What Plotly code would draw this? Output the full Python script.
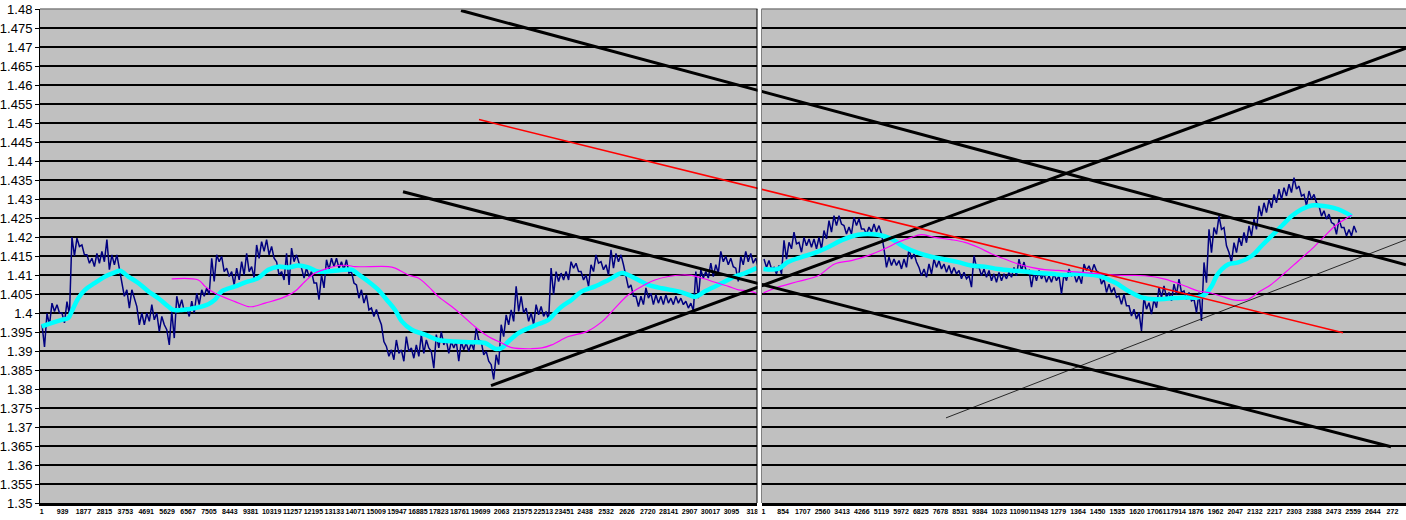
import plotly.graph_objects as go

# price axis
Y_TICKS = ["1.35", "1.355", "1.36", "1.365", "1.37", "1.375", "1.38", "1.385", "1.39",
           "1.395", "1.4", "1.405", "1.41", "1.415", "1.42", "1.425", "1.43", "1.435",
           "1.44", "1.445", "1.45", "1.455", "1.46", "1.465", "1.47", "1.475", "1.48"]

# category labels as Excel printed them (truncated)
LEFT_TICKTEXT = ["1", "939", "1877", "2815", "3753", "4691", "5629", "6567", "7505", "8443",
                 "9381", "10319", "11257", "12195", "13133", "14071", "15009", "15947", "16885",
                 "17823", "18761", "19699", "2063", "21575", "22513", "23451", "2438", "2532",
                 "2626", "2720", "28141", "2907", "30017", "3095", "318"]
RIGHT_TICKTEXT = ["1", "854", "1707", "2560", "3413", "4266", "5119", "5972", "6825", "7678",
                  "8531", "9384", "1023", "11090", "11943", "1279", "1364", "1450", "1535",
                  "1620", "17061", "17914", "1876", "1962", "2047", "2132", "2217", "2303",
                  "2388", "2473", "2559", "2644", "272"]
LEFT_TICK_STEP = 938
RIGHT_TICK_STEP = 853

# price series, high/low per block of bars
LEFT_BLOCK = 224
LEFT_FIRST = 14
LEFT_HI = [1.3969, 1.3999, 1.4026, 1.4022, 1.4000, 1.4030, 1.4200, 1.4197, 1.4179, 1.4153,
           1.4144, 1.4157, 1.4162, 1.4193, 1.4153, 1.4153, 1.4079, 1.4061, 1.4061, 1.4017,
           1.4000, 1.4000, 1.4022, 1.4000, 1.3991, 1.3956, 1.4004, 1.4044, 1.4035, 1.4013,
           1.4031, 1.4052, 1.4061, 1.4066, 1.4144, 1.4153, 1.4149, 1.4118, 1.4109, 1.4118,
           1.4135, 1.4157, 1.4122, 1.4179, 1.4188, 1.4193, 1.4175, 1.4135, 1.4109, 1.4157,
           1.4171, 1.4153, 1.4118, 1.4118, 1.4109, 1.4079, 1.4100, 1.4140, 1.4144, 1.4144,
           1.4135, 1.4140, 1.4109, 1.4074, 1.4061, 1.4048, 1.4013, 1.4009, 1.3969, 1.3912,
           1.3903, 1.3929, 1.3903, 1.3938, 1.3908, 1.3916, 1.3943, 1.3929, 1.3899, 1.3943,
           1.3951, 1.3929, 1.3925, 1.3925, 1.3925, 1.3921, 1.3921, 1.3960, 1.3925, 1.3899,
           1.3864, 1.3890, 1.3969, 1.3995, 1.4008, 1.4070, 1.4044, 1.4013, 1.4000, 1.4022,
           1.4017, 1.4004, 1.4118, 1.4109, 1.4105, 1.4109, 1.4135, 1.4131, 1.4109, 1.4100,
           1.4127, 1.4153, 1.4135, 1.4127, 1.4166, 1.4157, 1.4153, 1.4100, 1.4074, 1.4044,
           1.4044, 1.4066, 1.4052, 1.4048, 1.4044, 1.4048, 1.4039, 1.4044, 1.4039, 1.4031,
           1.4026, 1.4109, 1.4114, 1.4109, 1.4131, 1.4127, 1.4162, 1.4149, 1.4144, 1.4118,
           1.4149, 1.4162, 1.4157, 1.4144]
LEFT_LO = [1.3911, 1.3969, 1.4004, 1.4000, 1.3974, 1.3995, 1.4150, 1.4175, 1.4153, 1.4131,
           1.4122, 1.4131, 1.4135, 1.4114, 1.4127, 1.4118, 1.4044, 1.4013, 1.4039, 1.3969,
           1.3969, 1.3978, 1.3982, 1.3951, 1.3969, 1.3916, 1.3934, 1.4013, 1.4004, 1.3991,
           1.4000, 1.4022, 1.4044, 1.4048, 1.4083, 1.4135, 1.4109, 1.4096, 1.4074, 1.4087,
           1.4100, 1.4109, 1.4092, 1.4144, 1.4162, 1.4153, 1.4144, 1.4100, 1.4087, 1.4074,
           1.4135, 1.4131, 1.4092, 1.4096, 1.4079, 1.4035, 1.4066, 1.4114, 1.4122, 1.4118,
           1.4114, 1.4105, 1.4079, 1.4039, 1.4026, 1.4008, 1.3991, 1.3987, 1.3925, 1.3886,
           1.3877, 1.3894, 1.3873, 1.3899, 1.3881, 1.3886, 1.3894, 1.3908, 1.3855, 1.3908,
           1.3916, 1.3894, 1.3908, 1.3873, 1.3903, 1.3899, 1.3903, 1.3929, 1.3890, 1.3873,
           1.3825, 1.3864, 1.3938, 1.3969, 1.3978, 1.4004, 1.4000, 1.3978, 1.3969, 1.3995,
           1.3991, 1.3982, 1.4048, 1.4083, 1.4087, 1.4087, 1.4118, 1.4109, 1.4087, 1.4070,
           1.4109, 1.4131, 1.4114, 1.4100, 1.4118, 1.4135, 1.4127, 1.4066, 1.4044, 1.4017,
           1.4022, 1.4039, 1.4022, 1.4026, 1.4022, 1.4026, 1.4022, 1.4026, 1.4022, 1.4013,
           1.4006, 1.4039, 1.4092, 1.4092, 1.4096, 1.4105, 1.4135, 1.4127, 1.4122, 1.4083,
           1.4127, 1.4135, 1.4131, 1.4122]

RIGHT_BLOCK = 217
RIGHT_FIRST = 22
RIGHT_HI = [1.4142, 1.4138, 1.4120, 1.4125, 1.4191, 1.4186, 1.4213, 1.4186, 1.4199, 1.4195,
            1.4195, 1.4199, 1.4217, 1.4243, 1.4256, 1.4256, 1.4230, 1.4226, 1.4252, 1.4248,
            1.4221, 1.4226, 1.4234, 1.4230, 1.4169, 1.4147, 1.4142, 1.4138, 1.4142, 1.4169,
            1.4156, 1.4120, 1.4116, 1.4129, 1.4142, 1.4138, 1.4129, 1.4125, 1.4120, 1.4112,
            1.4107, 1.4098, 1.4151, 1.4120, 1.4116, 1.4112, 1.4103, 1.4107, 1.4103, 1.4107,
            1.4120, 1.4142, 1.4134, 1.4112, 1.4107, 1.4112, 1.4103, 1.4098, 1.4103, 1.4098,
            1.4103, 1.4116, 1.4103, 1.4098, 1.4129, 1.4124, 1.4128, 1.4106, 1.4089, 1.4076,
            1.4067, 1.4045, 1.4049, 1.4019, 1.4010, 1.4001, 1.4041, 1.4027, 1.4036, 1.4067,
            1.4071, 1.4054, 1.4076, 1.4089, 1.4058, 1.4054, 1.4036, 1.4054, 1.4133, 1.4220,
            1.4225, 1.4255, 1.4225, 1.4159, 1.4185, 1.4198, 1.4212, 1.4229, 1.4247, 1.4282,
            1.4290, 1.4299, 1.4312, 1.4326, 1.4330, 1.4339, 1.4356, 1.4334, 1.4312, 1.4321,
            1.4312, 1.4282, 1.4269, 1.4260, 1.4234, 1.4247, 1.4225, 1.4220, 1.4229]
RIGHT_LO = [1.4120, 1.4116, 1.4103, 1.4103, 1.4142, 1.4169, 1.4182, 1.4160, 1.4177, 1.4173,
            1.4169, 1.4169, 1.4195, 1.4213, 1.4230, 1.4234, 1.4208, 1.4208, 1.4230, 1.4221,
            1.4208, 1.4213, 1.4213, 1.4208, 1.4120, 1.4125, 1.4125, 1.4116, 1.4120, 1.4142,
            1.4134, 1.4098, 1.4094, 1.4103, 1.4120, 1.4116, 1.4107, 1.4103, 1.4103, 1.4090,
            1.4090, 1.4068, 1.4120, 1.4098, 1.4094, 1.4085, 1.4081, 1.4085, 1.4090, 1.4094,
            1.4098, 1.4112, 1.4107, 1.4068, 1.4085, 1.4090, 1.4081, 1.4081, 1.4085, 1.4050,
            1.4085, 1.4098, 1.4081, 1.4077, 1.4112, 1.4106, 1.4111, 1.4076, 1.4054, 1.4054,
            1.4041, 1.4023, 1.4019, 1.3992, 1.3984, 1.3953, 1.4010, 1.3997, 1.4014, 1.4041,
            1.4041, 1.4032, 1.4049, 1.4054, 1.4036, 1.4032, 1.4001, 1.3979, 1.4080, 1.4159,
            1.4207, 1.4220, 1.4177, 1.4133, 1.4159, 1.4177, 1.4185, 1.4203, 1.4220, 1.4255,
            1.4264, 1.4277, 1.4290, 1.4299, 1.4308, 1.4317, 1.4326, 1.4308, 1.4282, 1.4299,
            1.4290, 1.4255, 1.4247, 1.4238, 1.4207, 1.4225, 1.4203, 1.4203, 1.4212]

# fast moving average (cyan)
LEFT_FAST_X = [1, 297, 898, 1194, 1347, 1643, 1944, 2393, 2841, 3290, 3515, 3887, 4336, 4785,
               5234, 5682, 5907, 6284, 6881, 7478, 7778, 8079, 8676, 9273, 9722, 10170, 10619,
               11068, 11517, 11966, 12414, 13164, 13913, 14209, 14658, 15107, 15484, 15861,
               16162, 16611, 17208, 17805, 18554, 19304, 19901, 20349, 20650, 20946, 21395,
               21844, 22293, 22742, 23042, 23343, 23792, 24241, 24838, 25435, 26036, 26332,
               26781, 27230, 27831, 28574, 29023, 29321, 29769, 30218, 30667, 31116, 31565, 32090]
LEFT_FAST = [1.3965, 1.3971, 1.3982, 1.3987, 1.4004, 1.4039, 1.4061, 1.4079, 1.4096, 1.4107,
             1.4111, 1.4096, 1.4079, 1.4057, 1.4039, 1.4017, 1.4008, 1.4008, 1.4013, 1.4023,
             1.4035, 1.4057, 1.4070, 1.4083, 1.4092, 1.4114, 1.4122, 1.4120, 1.4125, 1.4120,
             1.4109, 1.4111, 1.4114, 1.4102, 1.4083, 1.4061, 1.4035, 1.4008, 1.3978, 1.3956,
             1.3943, 1.3929, 1.3925, 1.3923, 1.3921, 1.3906, 1.3908, 1.3925, 1.3947, 1.3960,
             1.3971, 1.3982, 1.4000, 1.4017, 1.4035, 1.4057, 1.4070, 1.4087, 1.4105, 1.4100,
             1.4087, 1.4074, 1.4065, 1.4057, 1.4048, 1.4043, 1.4057, 1.4070, 1.4083, 1.4096,
             1.4105, 1.4118]
RIGHT_FAST_X = [1, 629, 1063, 1640, 2222, 2799, 3376, 4101, 4969, 5546, 6128, 6705, 7282, 7864,
                8441, 9018, 9600, 10177, 10754, 11336, 11913, 12490, 13072, 13649, 13953, 14530,
                15255, 15832, 16414, 16991, 17568, 18293, 18870, 19161, 19452, 19669, 19886,
                20172, 20606, 21188, 21622, 22056, 22490, 22924, 23358, 23792, 24078, 24512,
                24946, 25528]
RIGHT_FAST = [1.4116, 1.4116, 1.4134, 1.4147, 1.4158, 1.4173, 1.4191, 1.4206, 1.4206, 1.4195,
              1.4173, 1.4158, 1.4148, 1.4141, 1.4134, 1.4125, 1.4122, 1.4116, 1.4112, 1.4109,
              1.4105, 1.4103, 1.4100, 1.4103, 1.4102, 1.4098, 1.4080, 1.4058, 1.4041, 1.4036,
              1.4038, 1.4041, 1.4041, 1.4049, 1.4071, 1.4098, 1.4115, 1.4128, 1.4133, 1.4150,
              1.4177, 1.4203, 1.4229, 1.4255, 1.4273, 1.4283, 1.4283, 1.4280, 1.4273, 1.4255]

# slow moving average (magenta)
LEFT_SLOW_X = [5835, 7029, 7329, 7778, 8676, 9273, 9497, 10022, 10772, 11368, 11817, 12266,
               12863, 13312, 13761, 14061, 15556, 15861, 16454, 16903, 17351, 17805, 18401,
               18850, 19447, 20044, 20650, 21094, 21991, 22448, 22889, 23634, 24460, 25158,
               25731, 26332, 26928, 27525, 28127, 28724, 29173, 29622, 30218, 30816, 31265,
               31714, 32090]
LEFT_SLOW = [1.4090, 1.4087, 1.4070, 1.4052, 1.4030, 1.4017, 1.4017, 1.4026, 1.4039, 1.4057,
             1.4083, 1.4105, 1.4118, 1.4125, 1.4125, 1.4122, 1.4122, 1.4118, 1.4100, 1.4092,
             1.4070, 1.4043, 1.4017, 1.3995, 1.3964, 1.3938, 1.3921, 1.3909, 1.3906, 1.3908,
             1.3916, 1.3938, 1.3951, 1.3978, 1.4013, 1.4048, 1.4070, 1.4087, 1.4096, 1.4100,
             1.4099, 1.4092, 1.4081, 1.4070, 1.4061, 1.4058, 1.4052]
RIGHT_SLOW_X = [1, 629, 1497, 2365, 3090, 3810, 4535, 5260, 5837, 6414, 6848, 7430, 8150, 8732,
                9309, 9886, 10468, 11045, 11622, 12204, 12781, 13358, 13953, 14821, 15689,
                16557, 17425, 18293, 18870, 19452, 20029, 20463, 21040, 21474, 22056, 22633,
                23210, 23792, 24369, 24803, 25237, 25528]
RIGHT_SLOW = [1.4053, 1.4068, 1.4083, 1.4098, 1.4129, 1.4138, 1.4151, 1.4169, 1.4186, 1.4199,
              1.4206, 1.4199, 1.4193, 1.4186, 1.4173, 1.4156, 1.4142, 1.4129, 1.4120, 1.4114,
              1.4112, 1.4109, 1.4106, 1.4102, 1.4099, 1.4098, 1.4089, 1.4071, 1.4058, 1.4052,
              1.4041, 1.4034, 1.4036, 1.4054, 1.4076, 1.4106, 1.4137, 1.4168, 1.4203, 1.4229,
              1.4247, 1.4257]

# hand-drawn trend lines, bar numbers continue the left chart's scale
TRENDS = [
    # (x pair, price pair, colour, width)
    ([18819, 61230], [1.4796, 1.4127], "black", 3),
    ([16215, 60557], [1.4319, 1.3648], "black", 3),
    ([20165, 61230], [1.3809, 1.4697], "black", 3),
    ([19627, 58403], [1.4509, 1.3948], "#FF0000", 1.6),
    ([40585, 61230], [1.3724, 1.4193], "black", 0.8),
]

W, H = 1406, 520
PLOT_L, SPLIT_L, SPLIT_R = 40, 757, 762
LEFT_RANGE = [-76, 32103]
RIGHT_RANGE = [-65, 27885]
TREND_RANGE = [-76, 61230]
PRICE_RANGE = [1.35, 1.48]


def zigzag(hi, lo, first, block):
    xs, ys = [], []
    for k, (h, l) in enumerate(zip(hi, lo)):
        xs += [first + k * block, first + k * block + block // 2]
        ys += [h, l]
    return xs, ys


fig = go.Figure()

lx, ly = zigzag(LEFT_HI, LEFT_LO, LEFT_FIRST, LEFT_BLOCK)
rx, ry = zigzag(RIGHT_HI, RIGHT_LO, RIGHT_FIRST, RIGHT_BLOCK)

fig.add_trace(go.Scatter(x=lx, y=ly, mode="lines", line=dict(color="#000080", width=1.5),
                         xaxis="x", yaxis="y"))
fig.add_trace(go.Scatter(x=rx, y=ry, mode="lines", line=dict(color="#000080", width=1.5),
                         xaxis="x2", yaxis="y"))
fig.add_trace(go.Scatter(x=LEFT_FAST_X, y=LEFT_FAST, mode="lines", line_shape="spline",
                         line=dict(color="#00FFFF", width=4.5), xaxis="x", yaxis="y"))
fig.add_trace(go.Scatter(x=RIGHT_FAST_X, y=RIGHT_FAST, mode="lines", line_shape="spline",
                         line=dict(color="#00FFFF", width=4.5), xaxis="x2", yaxis="y"))
fig.add_trace(go.Scatter(x=LEFT_SLOW_X, y=LEFT_SLOW, mode="lines", line_shape="spline",
                         line=dict(color="#FF00FF", width=1.2), xaxis="x", yaxis="y"))
fig.add_trace(go.Scatter(x=RIGHT_SLOW_X, y=RIGHT_SLOW, mode="lines", line_shape="spline",
                         line=dict(color="#FF00FF", width=1.2), xaxis="x2", yaxis="y"))
for tx, ty, col, lw in TRENDS:
    fig.add_trace(go.Scatter(x=tx, y=ty, mode="lines", line=dict(color=col, width=lw),
                             xaxis="x3", yaxis="y2"))

tick_font = dict(family="Liberation Sans", size=7, color="black", weight="bold")
xcommon = dict(showgrid=False, zeroline=False, showline=True, linecolor="black", linewidth=3,
               ticks="", tickangle=0, tickfont=tick_font, anchor="y")

fig.update_layout(
    width=W, height=H,
    margin=dict(l=0, r=0, t=9, b=17),
    paper_bgcolor="white",
    plot_bgcolor="rgba(0,0,0,0)",
    showlegend=False,
    xaxis=dict(domain=[PLOT_L / W, SPLIT_L / W], range=LEFT_RANGE,
               tickvals=[1 + LEFT_TICK_STEP * k for k in range(len(LEFT_TICKTEXT))],
               ticktext=LEFT_TICKTEXT, **xcommon),
    xaxis2=dict(domain=[SPLIT_R / W, 1], range=RIGHT_RANGE,
                tickvals=[1 + RIGHT_TICK_STEP * k for k in range(len(RIGHT_TICKTEXT))],
                ticktext=RIGHT_TICKTEXT, **xcommon),
    # overlay used only for the trend lines drawn across both charts
    xaxis3=dict(domain=[PLOT_L / W, 1], range=TREND_RANGE, visible=False, anchor="y2"),
    yaxis2=dict(domain=[0, 1], range=PRICE_RANGE, visible=False, showgrid=False, anchor="x3"),
    yaxis=dict(range=PRICE_RANGE, tickvals=[float(t) for t in Y_TICKS], ticktext=Y_TICKS,
               showgrid=True, gridcolor="black", gridwidth=1.5, zeroline=False,
               showline=True, linecolor="black", linewidth=1, ticks="outside", ticklen=4,
               tickcolor="black", tickfont=dict(family="Liberation Sans", size=13, color="black"),
               anchor="x"),
    shapes=[
        # grey chart areas
        dict(type="rect", xref="paper", yref="paper", x0=PLOT_L / W, x1=SPLIT_L / W,
             y0=0, y1=1, fillcolor="#C0C0C0", line=dict(width=0), layer="below"),
        dict(type="rect", xref="paper", yref="paper", x0=SPLIT_R / W, x1=1,
             y0=0, y1=1, fillcolor="#C0C0C0", line=dict(width=0), layer="below"),
        # top border
        dict(type="line", xref="paper", yref="paper", x0=PLOT_L / W, x1=1, y0=1, y1=1,
             line=dict(color="#808080", width=1.5), layer="above"),
        # gap between the two charts
        dict(type="rect", xref="paper", yref="paper", x0=(SPLIT_L + 0.5) / W,
             x1=(SPLIT_R - 0.5) / W, y0=-0.04, y1=1.02, fillcolor="white",
             line=dict(width=0), layer="above"),
        dict(type="line", xref="paper", yref="paper", x0=SPLIT_L / W, x1=SPLIT_L / W,
             y0=0, y1=1, line=dict(color="black", width=1), layer="above"),
        dict(type="line", xref="paper", yref="paper", x0=(SPLIT_R - 0.5) / W,
             x1=(SPLIT_R - 0.5) / W, y0=0, y1=1, line=dict(color="#808080", width=1),
             layer="above"),
    ],
)

fig.write_html("out.html", config={"displayModeBar": False},
               post_script="document.body.style.margin='0';")
